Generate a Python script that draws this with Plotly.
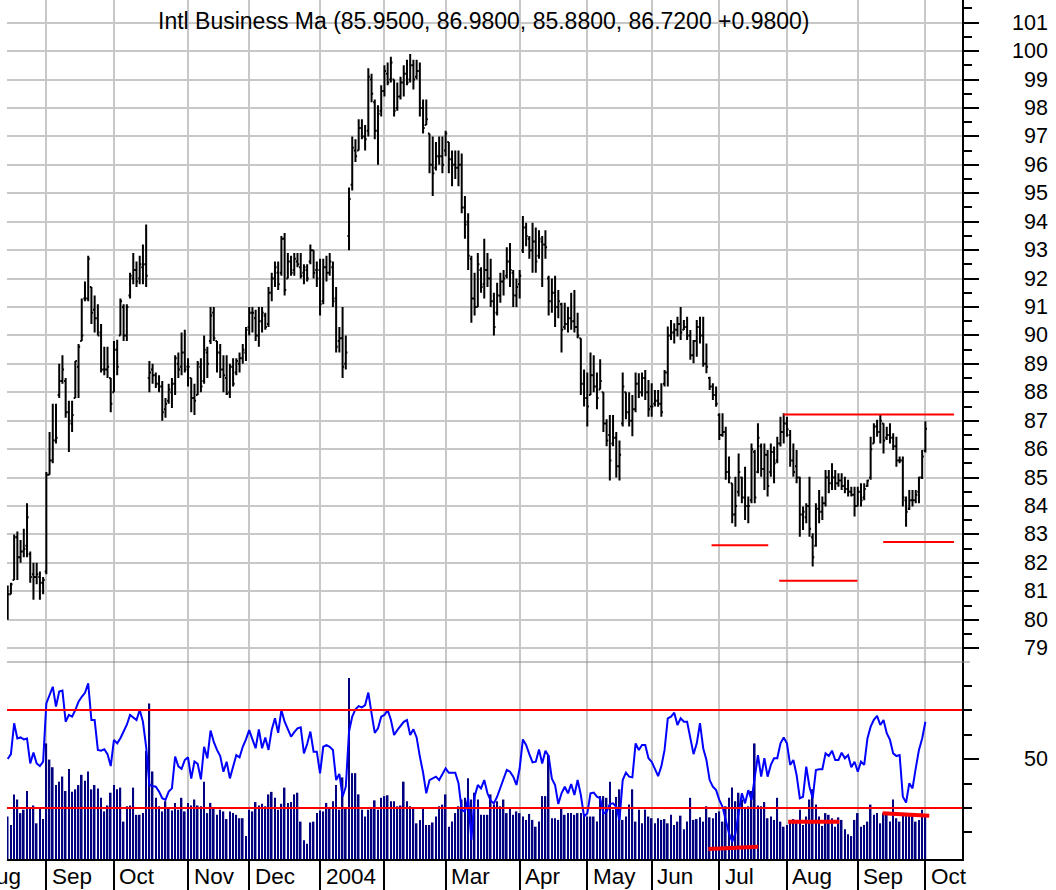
import pandas as pd
import plotly.graph_objects as go

# ---------------- data ----------------
holidays = ["2003-09-01", "2003-11-27", "2003-12-25", "2004-01-01", "2004-01-19",
            "2004-02-16", "2004-04-09", "2004-05-31", "2004-06-11", "2004-07-05", "2004-09-06"]

opens = [
    80.1, 80.9, 81.4, 82.9, 82.2, 82.4, 82.6, 82.3, 81.6, 81.5, 81.5, 81.3,
    81.7, 85.1, 85.6, 86.3, 87.9, 88.4, 88.4, 87.3, 86.9, 87.8, 88.9, 89.8, 91.3, 91.3, 91.7, 90.9, 90.6, 90.1, 88.8, 88.8, 88.5,
    88.0, 89.5, 90.0, 91.0, 90.0, 91.4, 92.0, 92.3, 92.0, 92.4, 92.5, 88.5, 88.8, 88.6, 88.3, 88.2, 87.4, 87.7, 88.0, 88.3, 89.0, 88.9, 89.4,
    88.9, 88.5, 87.8, 87.9, 88.9, 88.4, 89.4, 89.8, 90.8, 89.8, 89.4, 88.8, 88.5, 88.0, 88.9, 88.7, 89.0, 89.2, 89.4,
    90.3, 90.8, 90.6, 90.0, 90.5, 90.7, 90.4, 91.5, 92.0, 92.2, 92.2, 93.4, 92.0, 92.6, 92.3, 92.6, 92.4, 92.2, 92.3, 92.6, 93.0, 92.3,
    92.3, 91.2, 92.4, 92.2, 92.4, 91.3, 89.8, 89.9, 89.0, 93.5, 95.3, 96.5, 96.5, 97.3, 97.0, 97.2, 99.0, 98.2, 97.2, 97.9,
    98.6, 99.2, 99.0, 99.0, 98.0, 98.4, 98.9, 99.2, 99.0, 99.5, 99.1, 99.3, 98.0, 97.4, 97.1, 96.0, 95.9, 96.3, 96.3,
    96.5, 96.8, 96.2, 96.0, 95.9, 96.0, 94.5, 94.0, 92.7, 91.3, 91.0, 92.3, 91.8, 92.3, 92.0, 91.2, 90.8, 91.4, 91.9, 92.1, 92.6, 92.2, 91.4,
    91.8, 93.0, 93.8, 93.4, 93.0, 93.3, 92.8, 93.3, 93.2, 92.0, 91.2, 91.5, 91.0, 91.1, 90.3, 90.4, 90.6, 90.5, 90.3, 89.9, 88.3,
    87.8, 87.9, 88.6, 88.2, 88.1, 88.0, 86.9, 86.5, 86.2, 86.4, 85.4, 86.9, 88.0, 87.3, 87.0, 87.4, 88.3, 88.0, 88.5, 88.0,
    87.5, 87.6, 87.7, 87.6, 88.3, 88.7, 90.0, 90.1, 90.2, 90.4, 90.2, 90.3, 90.0, 89.3, 89.8, 90.3, 90.0, 89.0, 88.5, 88.2, 87.9,
    87.2, 86.5, 86.6, 85.2, 84.8, 83.7, 84.5, 85.0, 84.3, 84.0, 84.2, 85.9, 85.2, 86.1, 85.3, 85.8, 85.2, 85.9, 85.6, 86.2, 86.6,
    86.9, 86.5, 85.6, 85.4, 85.0, 83.7, 83.6, 84.0, 82.9, 82.6, 83.9, 83.8, 84.1, 85.0, 84.8, 85.0, 84.8, 84.9, 84.7, 84.6, 84.5, 84.4,
    84.0, 84.5, 84.3, 84.7, 85.0, 86.2, 86.8, 86.6, 86.9, 86.4, 86.5, 86.4, 86.1, 85.6, 85.6, 84.2, 83.9, 84.2, 84.2, 84.5, 85.0,
    85.95,
]
highs = [
    81.2, 81.3, 83.0, 83.1, 82.8, 83.2, 84.1, 82.4, 82.0, 82.0, 81.7, 81.5,
    85.2, 86.6, 87.6, 87.6, 89.0, 89.3, 88.5, 87.7, 87.7, 89.1, 89.7, 91.3, 91.9, 92.8, 91.7, 91.4, 91.1, 90.4, 89.6, 89.6, 88.5,
    89.8, 89.85, 91.3, 91.1, 91.1, 92.2, 92.9, 92.6, 92.8, 93.2, 93.9, 89.1, 89.0, 88.7, 88.6, 88.4, 87.8, 88.3, 88.5, 89.3, 89.4, 90.1, 90.2,
    89.2, 88.5, 88.3, 89.1, 89.2, 90.0, 89.6, 91.0, 91.0, 89.8, 89.7, 89.3, 89.3, 89.0, 89.2, 89.2, 89.4, 89.7, 90.3,
    91.0, 91.0, 90.9, 91.0, 91.0, 90.8, 91.7, 92.2, 92.6, 92.6, 93.5, 93.6, 92.9, 92.8, 92.9, 92.9, 92.9, 92.5, 92.5, 93.2, 93.0, 92.6,
    92.7, 92.7, 92.8, 92.9, 92.6, 91.7, 90.3, 91.0, 90.0, 95.2, 97.0, 96.9, 97.6, 97.6, 97.4, 99.4, 99.2, 98.3, 98.1, 98.8,
    99.5, 99.6, 99.8, 99.0, 98.9, 99.1, 99.5, 99.7, 99.9, 99.7, 99.7, 99.6, 98.3, 98.3, 97.1, 97.0, 96.8, 97.0, 97.0,
    97.2, 96.8, 96.5, 96.5, 96.5, 96.4, 94.9, 94.3, 92.8, 92.2, 92.9, 92.4, 93.4, 92.9, 92.7, 91.5, 91.85, 92.2, 92.3, 93.1, 93.25, 92.3, 92.0,
    92.3, 94.2, 93.96, 93.5, 93.96, 93.8, 93.7, 93.5, 93.7, 92.1, 92.0, 92.1, 91.6, 91.15, 91.15, 91.0, 91.5, 91.6, 90.8, 89.9, 88.8,
    88.7, 89.4, 89.3, 88.7, 89.16, 88.0, 87.05, 87.2, 87.2, 86.6, 86.3, 88.7, 88.0, 88.0, 87.9, 88.7, 88.67, 88.7, 88.78, 88.43,
    88.32, 88.08, 88.08, 88.32, 88.78, 90.31, 90.54, 90.43, 90.66, 91.0, 90.54, 90.66, 90.19, 89.84, 90.54, 90.66, 90.66, 89.72, 88.55, 88.32, 88.2,
    87.26, 87.26, 86.79, 85.74, 84.8, 85.03, 85.85, 85.03, 85.38, 84.33, 86.2, 85.97, 86.91, 86.2, 86.2, 85.97, 86.2, 86.09, 86.44, 87.14, 87.26,
    87.14, 86.67, 86.2, 85.97, 85.03, 83.98, 84.1, 85.03, 83.04, 84.1, 84.56, 84.33, 85.27, 85.27, 85.5, 85.27, 85.15, 85.15, 85.03, 84.92, 84.68, 84.68,
    84.68, 84.8, 84.8, 84.92, 86.44, 86.91, 87.03, 87.2, 86.91, 86.79, 86.91, 86.56, 86.44, 85.74, 85.74, 84.33, 84.56, 84.56, 84.56, 85.03, 85.97,
    86.98,
]
lows = [
    80.0, 80.9, 81.4, 81.4, 82.0, 82.2, 82.2, 81.3, 80.7, 81.25, 80.7, 80.9,
    81.6, 85.1, 85.5, 86.2, 87.8, 88.3, 87.1, 85.9, 86.6, 87.8, 87.8, 89.8, 91.2, 91.2, 90.4, 90.1, 90.0, 88.7, 88.6, 88.5, 87.3,
    88.0, 88.6, 90.0, 89.8, 89.8, 91.3, 91.8, 91.7, 91.8, 91.8, 91.7, 88.0, 88.3, 88.15, 88.0, 87.0, 87.1, 87.6, 87.45, 87.9, 88.5, 88.6, 88.7,
    88.2, 87.3, 87.2, 87.9, 88.0, 88.3, 88.5, 89.7, 89.8, 88.7, 88.5, 88.0, 87.9, 87.8, 88.2, 88.6, 88.7, 89.0, 89.1,
    90.0, 90.1, 89.8, 89.6, 90.1, 90.2, 90.3, 91.2, 91.7, 91.6, 92.1, 91.4, 92.0, 92.1, 92.1, 92.4, 92.0, 91.8, 91.9, 92.5, 92.0, 91.7,
    90.7, 91.1, 91.9, 92.1, 91.0, 89.4, 89.4, 88.5, 88.8, 93.0, 95.1, 96.1, 96.5, 96.9, 96.5, 97.0, 98.2, 96.9, 96.0, 97.7,
    98.4, 98.8, 98.9, 97.7, 97.9, 98.3, 98.4, 98.8, 98.9, 98.65, 99.0, 97.7, 97.1, 97.4, 95.7, 94.9, 95.8, 96.0, 95.7,
    96.3, 95.7, 95.25, 95.5, 95.25, 94.3, 93.4, 92.3, 90.45, 90.7, 91.0, 91.5, 91.3, 91.7, 91.0, 90.0, 90.7, 91.15, 91.4, 92.0, 91.7, 91.0, 91.0,
    91.3, 92.9, 93.14, 92.7, 92.2, 92.2, 92.7, 91.7, 92.7, 90.7, 90.8, 90.3, 90.6, 89.4, 90.2, 90.1, 90.2, 90.1, 89.9, 87.9, 87.5,
    86.8, 87.9, 88.0, 87.4, 88.1, 86.6, 86.1, 84.9, 86.1, 85.0, 84.9, 86.8, 87.05, 86.8, 86.45, 87.3, 87.8, 87.85, 87.73, 87.14,
    87.14, 87.5, 87.49, 87.14, 88.2, 88.2, 89.84, 89.72, 89.96, 89.84, 90.19, 89.84, 89.14, 89.02, 89.25, 89.72, 88.9, 88.67, 88.08, 87.73, 87.49,
    86.32, 86.44, 84.92, 84.8, 83.39, 83.27, 84.33, 84.1, 83.51, 83.39, 84.1, 84.1, 85.15, 85.03, 84.56, 84.33, 85.03, 84.8, 85.5, 86.09, 86.2,
    86.44, 85.38, 85.03, 84.8, 82.92, 83.16, 83.39, 82.92, 81.87, 82.57, 83.39, 83.51, 83.98, 84.45, 84.56, 84.56, 84.68, 84.56, 84.45, 84.33, 84.33, 83.63,
    83.98, 83.98, 84.2, 84.68, 84.92, 86.2, 86.44, 86.2, 85.85, 86.32, 86.2, 85.97, 85.38, 85.5, 83.98, 83.27, 83.86, 83.98, 84.1, 84.1, 84.95,
    85.88,
]
closes = [
    80.9, 81.25, 82.9, 82.2, 82.4, 82.5, 83.6, 81.5, 81.5, 81.6, 81.3, 81.4,
    85.1, 85.6, 86.3, 86.4, 88.4, 88.8, 87.3, 87.0, 87.2, 89.1, 89.6, 90.0, 91.3, 92.7, 90.8, 90.6, 90.0, 88.8, 88.8, 88.9, 87.6,
    89.5, 88.9, 91.2, 90.0, 91.0, 92.1, 92.3, 91.9, 92.5, 92.5, 92.1, 88.7, 88.6, 88.3, 88.2, 87.3, 87.6, 88.1, 88.3, 89.2, 88.8, 89.4, 88.8,
    88.9, 87.8, 87.7, 89.0, 88.2, 89.5, 89.0, 90.7, 89.9, 89.4, 88.8, 88.6, 87.95, 88.9, 88.3, 89.1, 89.2, 89.5, 90.2,
    90.8, 90.8, 90.0, 90.5, 90.8, 90.3, 91.5, 92.0, 92.4, 91.8, 93.4, 91.6, 92.6, 92.2, 92.7, 92.5, 92.1, 92.4, 92.0, 93.0, 92.2, 92.0,
    91.1, 92.4, 92.2, 92.6, 91.2, 89.6, 89.9, 88.9, 89.4, 94.8, 96.6, 96.3, 97.3, 97.0, 96.9, 99.1, 98.5, 97.2, 97.8, 98.6,
    99.3, 98.9, 99.6, 97.9, 98.4, 98.9, 99.2, 98.9, 99.5, 99.0, 99.3, 98.0, 97.3, 97.6, 96.0, 95.7, 96.3, 96.3, 96.0,
    97.1, 96.2, 96.0, 95.9, 96.0, 94.5, 93.9, 92.8, 91.3, 91.0, 92.5, 91.7, 92.3, 92.0, 91.2, 90.3, 91.4, 91.9, 92.0, 92.6, 92.3, 91.4, 91.7,
    92.1, 93.8, 93.5, 93.0, 93.3, 92.6, 93.4, 93.2, 93.1, 91.2, 91.5, 91.0, 91.2, 90.2, 90.4, 90.6, 90.5, 90.3, 90.0, 88.3, 87.8,
    87.5, 88.6, 88.2, 87.8, 88.4, 86.9, 86.3, 85.6, 86.4, 85.4, 85.8, 88.2, 87.3, 87.0, 87.4, 88.3, 88.0, 88.5, 88.0, 87.4,
    87.5, 87.7, 87.6, 87.3, 88.7, 90.0, 90.1, 90.2, 90.4, 90.1, 90.3, 90.0, 89.3, 89.8, 90.3, 90.0, 89.0, 88.9, 88.2, 87.9, 87.6,
    86.5, 86.6, 85.2, 85.0, 83.7, 84.0, 85.2, 84.3, 84.0, 84.0, 86.0, 84.3, 86.4, 85.3, 85.8, 84.7, 85.9, 85.5, 86.2, 86.6, 86.9,
    86.7, 85.6, 85.2, 85.0, 83.7, 83.8, 84.0, 83.2, 82.2, 83.9, 83.8, 84.1, 85.0, 84.8, 85.0, 84.8, 84.9, 84.7, 84.6, 84.5, 84.4, 84.0,
    84.5, 84.2, 84.6, 84.9, 86.0, 86.8, 86.6, 87.0, 86.3, 86.5, 86.4, 86.1, 85.6, 85.6, 84.3, 83.8, 84.2, 84.2, 84.4, 85.0, 85.74,
    86.72,
]
oscillator = [
    50, 52, 64.6, 58.4, 58.8, 58, 58.4, 48.2, 52.6, 48.2, 47.1, 48.9,
    72.7, 76, 79.5, 71.4, 77.5, 77.9, 65.2, 68, 67.3, 70, 73.4, 75.4, 77, 80.9, 65.9, 65.9, 53.7, 53.4, 54, 52, 47.1,
    57.8, 56.4, 58.5, 61.2, 64, 68, 67, 65.9, 70, 65.2, 55, 39.4, 39, 38.7, 36.7, 34, 33.3, 36.7, 38, 51, 47, 46, 49.6,
    50.7, 42, 49, 48, 41.7, 55, 50.3, 61.6, 57, 53.7, 51.2, 44.8, 48.9, 42.1, 47, 51.6, 50.7, 55, 58,
    61.8, 58, 54.4, 62.1, 54.4, 58.8, 53.7, 62, 66.6, 60.7, 70, 65.2, 62, 59.1, 61, 62.5, 62.9, 52.3, 56.1, 61.2, 53, 53,
    44.1, 55, 55.7, 55, 53.7, 41.4, 43.9, 34.6, 38.7, 61.2, 67.3, 70.3, 71.6, 71.1, 72, 77.1, 68.6, 60.7, 62.5, 67.3,
    68, 70, 66, 59.8, 61.8, 63.5, 65.2, 65.9, 59.8, 62.1, 58.8, 51, 44.5, 36, 41.4, 42.1, 42.8, 41.4, 44,
    46.2, 44.4, 44.4, 44.4, 40.1, 29.2, 28.5, 34, 17, 34.6, 39.4, 38, 41.4, 36, 33, 31.9, 34.6, 38, 42, 45.5, 44.8, 42.8, 39.4,
    46.2, 58, 55.7, 52, 48.6, 48.9, 53.9, 48.2, 53.4, 51.2, 42, 39.4, 31.6, 36, 38.7, 36, 39.8, 35.3, 41.4, 35.3, 26.5,
    27.8, 36, 36.3, 34.6, 33.9, 27.8, 28.5, 31.6, 31.9, 30.5, 25.1, 41.4, 44.4, 42.8, 42.5, 56.4, 53.7, 55.7, 55.7, 50.3,
    48.9, 46, 43, 47, 53.7, 66.6, 67.3, 68.9, 63.9, 66.6, 65.2, 65.2, 57.8, 52, 56.4, 64.6, 54.4, 49.6, 41.4, 38.7, 37.3,
    33.3, 30.5, 25.1, 19.7, 16.3, 19.7, 27.8, 36, 31.9, 37.3, 33.3, 43, 51.6, 42.8, 50.3, 42.8, 47.6, 50.3, 50.3, 56.4, 58.8,
    56.4, 47.6, 49.6, 43.5, 34, 34.6, 46.9, 38.7, 34, 45.5, 45.8, 45.8, 52.3, 51.2, 53.4, 49.6, 49.6, 52.6, 50.3, 51.6, 46.6, 48.9,
    44.8, 48.9, 47.6, 58.4, 63.2, 66, 67.6, 63.9, 65.9, 60.5, 57.8, 52.3, 51.2, 51.6, 34.6, 32.2, 40.1, 38, 46.2, 53.7, 58.4,
    65.2,
]
volume_m = [
    5.0, 4.0, 7.6, 7.0, 5.4, 5.8, 8.0, 5.9, 6.3, 4.2, 6.0, 4.7,
    13.6, 11.7, 10.8, 8.7, 9.1, 9.7, 8.0, 10.6, 7.9, 8.2, 8.7, 9.9, 9.2, 10.3, 8.2, 8.7, 8.3, 7.2, 5.6, 6.3, 7.8,
    8.7, 8.2, 8.4, 4.4, 6.2, 6.3, 8.4, 5.2, 5.2, 5.4, 12.7, 18.3, 10.3, 7.2, 6.2, 5.6, 6.8, 6.0, 5.7, 6.6, 5.8, 7.2, 5.6,
    6.6, 6.3, 7.0, 6.3, 6.2, 9.1, 5.4, 6.6, 6.0, 5.2, 5.8, 5.6, 4.7, 5.6, 5.4, 5.2, 4.8, 4.8, 2.7,
    5.8, 5.6, 6.7, 6.3, 6.5, 6.2, 7.6, 7.9, 7.2, 5.8, 6.5, 8.4, 6.6, 6.7, 7.6, 7.8, 4.4, 2.2, 1.8, 4.3, 4.4, 5.4,
    5.7, 5.6, 6.6, 6.0, 6.8, 8.7, 5.8, 9.6, 5.9, 21.3, 10.1, 10.1, 7.6, 5.8, 5.0, 5.8, 6.0, 6.9, 5.8, 7.2,
    7.4, 7.5, 6.8, 6.8, 6.2, 6.3, 9.1, 6.8, 6.2, 6.0, 4.2, 4.6, 6.0, 4.0, 4.0, 4.3, 5.0, 6.2, 6.4,
    7.6, 3.8, 4.4, 5.4, 6.2, 7.0, 7.2, 9.5, 7.0, 7.8, 7.0, 5.2, 5.2, 5.2, 7.6, 6.4, 6.8, 6.2, 7.0, 5.4, 6.0, 5.2, 5.6,
    5.4, 5.0, 4.6, 5.3, 4.6, 3.8, 4.4, 7.4, 7.4, 12.2, 4.8, 4.8, 4.6, 6.0, 5.2, 5.4, 5.4, 5.2, 5.4, 5.4, 5.2,
    5.0, 5.0, 5.0, 4.4, 7.4, 7.4, 7.2, 9.1, 5.8, 7.3, 8.2, 4.6, 5.0, 6.4, 8.2, 4.4, 5.8, 4.2, 5.8, 5.0,
    4.8, 4.2, 4.8, 4.6, 4.7, 4.2, 5.2, 4.0, 4.4, 5.1, 3.5, 4.4, 7.2, 4.6, 4.7, 4.9, 4.4, 6.2, 4.9, 4.8, 5.4,
    5.6, 4.4, 6.2, 7.2, 8.4, 6.8, 7.8, 7.0, 6.0, 6.2, 8.0, 13.6, 6.3, 6.2, 6.7, 4.8, 5.0, 4.6, 7.2, 4.4, 3.8,
    4.0, 4.6, 4.7, 4.4, 5.8, 4.0, 5.0, 7.0, 8.2, 6.4, 5.0, 3.9, 5.4, 5.2, 4.8, 3.8, 4.9, 4.6, 3.5, 2.9, 2.7, 4.6,
    5.4, 3.8, 4.0, 4.4, 6.4, 5.2, 5.4, 4.2, 5.4, 5.2, 4.4, 7.0, 4.8, 4.4, 5.4, 5.4, 5.1, 5.2, 4.4, 4.6, 5.8,
    5.3,
]
month_labels = {"2003-09": "Sep", "2003-10": "Oct", "2003-11": "Nov", "2003-12": "Dec",
                "2004-01": "2004", "2004-02": "", "2004-03": "Mar", "2004-04": "Apr",
                "2004-05": "May", "2004-06": "Jun", "2004-07": "Jul", "2004-08": "Aug",
                "2004-09": "Sep", "2004-10": "Oct"}
first_label = "Aug"
price_ticks = list(range(79, 102))
osc_levels = [70, 30]
# hand-drawn levels on the price panel: (start bar, end bar, price)
price_levels = [(240.9, 293.9, 87.22), (218.6, 236.2, 82.62), (239.6, 263.9, 81.37), (271.9, 293.9, 82.73)]
# hand-drawn lines on the volume bars: (start bar, start vol, end bar, end vol)
volume_lines = [(217.6, 1.18, 233.1, 1.45), (242.4, 4.39, 258.3, 4.39), (271.7, 5.38, 286.2, 5.09)]
title_text = "Intl Business Ma (85.9500, 86.9800, 85.8800, 86.7200 +0.9800)"

# trading calendar
dates = [d.strftime("%Y-%m-%d") for d in pd.bdate_range("2003-08-14", "2004-10-01")
         if d.strftime("%Y-%m-%d") not in holidays]
n = len(dates)
for name, arr in [("opens", opens), ("highs", highs), ("lows", lows), ("closes", closes),
                  ("oscillator", oscillator), ("volume_m", volume_m)]:
    assert len(arr) == n, f"{name}: {len(arr)} != {n}"

month_starts = []
for i, d in enumerate(dates):
    if i > 0 and d[:7] != dates[i - 1][:7]:
        month_starts.append(d)

FONT = "Liberation Sans, Arial, sans-serif"
W, H = 1056, 890
X0, X1 = 7 / W, 962 / W
SPLIT = 228 / H
BOT = 31 / H

fig = go.Figure()
fig.add_trace(go.Bar(x=dates, y=volume_m, yaxis="y2", width=0.5,
                     marker=dict(color="#000080", line=dict(width=0)), hoverinfo="skip"))
fig.add_trace(go.Scatter(x=dates, y=oscillator, yaxis="y3", mode="lines",
                         line=dict(color="#0000ff", width=2), hoverinfo="skip"))
fig.add_trace(go.Ohlc(x=dates, open=opens, high=highs, low=lows, close=closes,
                      xaxis="x", yaxis="y", tickwidth=0.5, hoverinfo="skip",
                      increasing=dict(line=dict(color="black", width=2)),
                      decreasing=dict(line=dict(color="black", width=2))))

shapes = []
for a, b, p in price_levels:
    shapes.append(dict(type="line", xref="x", yref="y", x0=a, x1=b, y0=p, y1=p,
                       line=dict(color="red", width=2), layer="above"))
for lvl in osc_levels:
    shapes.append(dict(type="line", xref="paper", yref="y3", x0=X0, x1=X1, y0=lvl, y1=lvl,
                       line=dict(color="red", width=2), layer="above"))
for a, va, b, vb in volume_lines:
    shapes.append(dict(type="line", xref="x", yref="y2", x0=a, x1=b, y0=va, y1=vb,
                       line=dict(color="red", width=4), layer="above"))
shapes.append(dict(type="line", xref="paper", yref="paper", x0=X0, x1=970 / W, y0=SPLIT, y1=SPLIT,
                   line=dict(color="#888888", width=1), layer="above"))

annotations = [dict(text=title_text, xref="paper", yref="paper", x=484 / W, y=(H - 21) / H,
                    xanchor="center", yanchor="middle", showarrow=False,
                    font=dict(size=23, family=FONT, color="black"))]
for p in price_ticks:
    annotations.append(dict(text=str(p), xref="paper", yref="y", x=1050 / W, y=p,
                            xanchor="right", yanchor="middle", showarrow=False,
                            font=dict(size=21.5, family=FONT, color="black")))
annotations.append(dict(text="50", xref="paper", yref="y3", x=1050 / W, y=50,
                        xanchor="right", yanchor="middle", showarrow=False,
                        font=dict(size=21.5, family=FONT, color="black")))
label_y = (H - 876) / H
annotations.append(dict(text=first_label, xref="x", yref="paper", x=dates[0], y=label_y,
                        xanchor="right", yanchor="middle", xshift=15.5, showarrow=False,
                        font=dict(size=22.5, family=FONT, color="black")))
for d in month_starts:
    lab = month_labels.get(d[:7], "")
    if lab:
        annotations.append(dict(text=lab, xref="x", yref="paper", x=d, y=label_y,
                                xanchor="left", yanchor="middle", xshift=3.5, showarrow=False,
                                font=dict(size=22.5, family=FONT, color="black")))

fig.update_layout(
    width=W, height=H, autosize=False,
    margin=dict(l=0, r=0, t=0, b=0),
    paper_bgcolor="white", plot_bgcolor="white", showlegend=False,
    font=dict(family=FONT, color="black"),
    hovermode=False,
    xaxis=dict(type="category", domain=[X0, X1], range=[-0.217, 296.37], anchor="y2",
               showgrid=True, gridcolor="#c8c8c8", gridwidth=2,
               tickmode="array", tickvals=month_starts, ticks="outside", ticklen=31,
               tickwidth=1.5, tickcolor="black", showticklabels=False,
               showline=True, linecolor="black", linewidth=1.5,
               rangeslider=dict(visible=False), zeroline=False),
    yaxis=dict(domain=[SPLIT, 1], range=[78.513, 101.798], side="right", anchor="x",
               showgrid=True, gridcolor="#c8c8c8", gridwidth=2, tick0=0, dtick=1,
               ticks="outside", ticklen=15, tickwidth=2, tickcolor="black",
               showticklabels=False, showline=True, linecolor="black", linewidth=1.5,
               zeroline=False,
               minor=dict(tick0=0, dtick=0.5, ticks="outside", ticklen=8, tickwidth=1.5,
                          tickcolor="black", showgrid=False)),
    yaxis2=dict(domain=[BOT, SPLIT], range=[0, 23.18], anchor="x", showgrid=False,
                showticklabels=False, ticks="", showline=False, zeroline=False),
    yaxis3=dict(overlaying="y2", side="right", anchor="x", range=[9.18, 89.6],
                showgrid=False, zeroline=False, showticklabels=False,
                tickmode="array", tickvals=[50], ticks="outside", ticklen=15, tickwidth=2,
                tickcolor="black", showline=True, linecolor="black", linewidth=1.5,
                minor=dict(tickmode="array", tickvals=[20, 30, 40, 60, 70, 80], ticks="outside",
                           ticklen=8, tickwidth=1.5, tickcolor="black", showgrid=False)),
    shapes=shapes, annotations=annotations,
)

fig.write_html("out.html", config={"displayModeBar": False},
               post_script="document.body.style.margin='0px';")
